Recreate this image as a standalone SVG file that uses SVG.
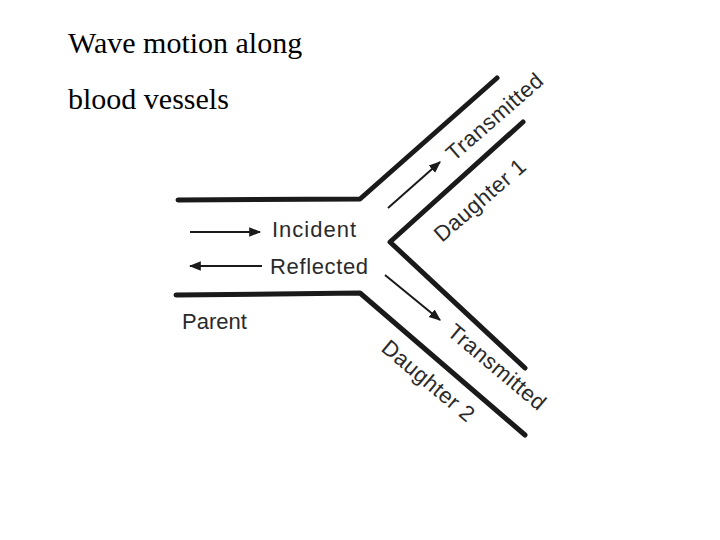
<svg xmlns="http://www.w3.org/2000/svg" width="720" height="540" viewBox="0 0 720 540">
<style>
.w{fill:none;stroke:#1a1a1a;stroke-width:5;stroke-linecap:round;stroke-linejoin:round}
.a{fill:none;stroke:#1a1a1a;stroke-width:2}
.t{font-family:"Liberation Sans",Arial,sans-serif;font-size:22px;fill:#2a2a2a}
.r{font-family:"Liberation Sans",Arial,sans-serif;font-size:22px;fill:#2a2a2a;letter-spacing:0.5px}
.h{font-family:"Liberation Serif","Times New Roman",serif;font-size:30px;fill:#000}
</style>
<defs><marker id="m" viewBox="0 0 10 10" refX="9" refY="5" markerWidth="6" markerHeight="6" orient="auto"><path d="M0,1 L10,5 L0,9 z" fill="#1a1a1a"/></marker></defs>
<rect width="720" height="540" fill="#fff"/>
<text class="h" x="68" y="53">Wave motion along</text>
<text class="h" x="68" y="109">blood vessels</text>
<g id="vessels">
<path class="w" d="M178,200 L360,199 L497,78"/>
<path class="w" d="M176,295 L360,293 L525,435"/>
<path class="w" d="M523,122 L390,242 L525,368"/>
</g>
<g id="connectors">
<path class="a" d="M190,232 L260,232" marker-end="url(#m)"/>
<path class="a" d="M262,266 L190,266" marker-end="url(#m)"/>
<path class="a" d="M388,208 L440,162" marker-end="url(#m)"/>
<path class="a" d="M385,275 L440,320" marker-end="url(#m)"/>
</g>
<g id="labels">
<text class="t" x="272" y="237" textLength="84">Incident</text>
<text class="t" x="270" y="274" textLength="98">Reflected</text>
<text class="t" x="182" y="329">Parent</text>
<text class="r" transform="translate(454,162) rotate(-41)">Transmitted</text>
<text class="r" transform="translate(442,243) rotate(-41)">Daughter 1</text>
<text class="r" transform="translate(446,334) rotate(40)">Transmitted</text>
<text class="r" transform="translate(380,350) rotate(40)">Daughter 2</text>
</g>
</svg>
